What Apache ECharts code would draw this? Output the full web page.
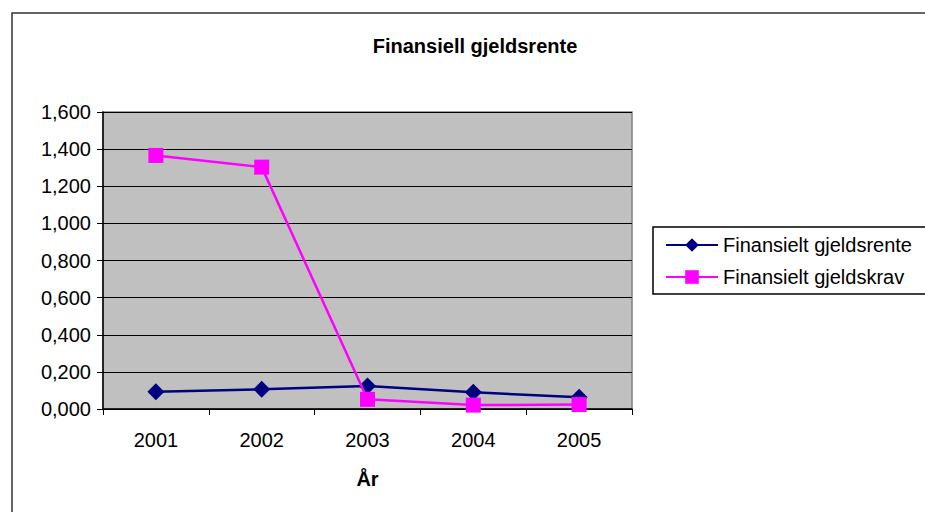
<!DOCTYPE html>
<html>
<head>
<meta charset="utf-8">
<script src="https://cdn.jsdelivr.net/npm/echarts@6/dist/echarts.min.js"></script>
<style>
  html, body { margin: 0; padding: 0; background: #fff; }
  #chart { width: 925px; height: 512px; }
</style>
</head>
<body>
<div id="chart"></div>
<script>
(function() {
  // --- data ---
  var years = ['2001', '2002', '2003', '2004', '2005'];
  var rente = [0.093, 0.106, 0.124, 0.090, 0.063];   // Finansielt gjeldsrente
  var krav = [1.366, 1.303, 0.052, 0.021, 0.024];    // Finansielt gjeldskrav
  var yMin = 0, yMax = 1.6, yStep = 0.2;

  var font = 'Liberation Sans, Arial, sans-serif';
  var chart = echarts.init(document.getElementById('chart'), null, { renderer: 'svg' });

  chart.setOption({
    animation: false,
    textStyle: { fontFamily: font, color: '#000' },
    title: {
      text: 'Finansiell gjeldsrente',
      left: 470, textAlign: 'center',
      top: 31,
      textStyle: { fontFamily: font, fontSize: 20, fontWeight: 'bold', color: '#000' }
    },
    graphic: [
      // outer chart frame
      { type: 'rect', z: 0, shape: { x: 12, y: 13, width: 1000, height: 600 },
        style: { fill: 'none', stroke: '#333', lineWidth: 1.5 } },
      // legend box
      { type: 'rect', z: 0, shape: { x: 653, y: 227, width: 300, height: 67 },
        style: { fill: '#fff', stroke: '#000', lineWidth: 1.5 } }
    ],
    legend: {
      orient: 'vertical',
      left: 660, top: 230,
      z: 10,
      itemWidth: 52, itemHeight: 17,
      itemGap: 12,
      textStyle: { fontFamily: font, fontSize: 20, color: '#000' },
      data: ['Finansielt gjeldsrente', 'Finansielt gjeldskrav']
    },
    grid: {
      left: 103, top: 112, right: 293, bottom: 103,
      show: true, backgroundColor: '#C0C0C0', borderColor: '#808080', borderWidth: 1.5
    },
    xAxis: {
      type: 'category',
      data: years,
      name: 'År',
      nameLocation: 'middle',
      nameGap: 60,
      nameTextStyle: { fontFamily: font, fontSize: 20, fontWeight: 'bold', color: '#000' },
      axisLine: { lineStyle: { color: '#000', width: 1.5 } },
      axisTick: { show: true, length: 6, lineStyle: { color: '#000' } },
      axisLabel: { fontFamily: font, fontSize: 20, color: '#000', margin: 21 }
    },
    yAxis: {
      type: 'value',
      min: yMin, max: yMax, interval: yStep,
      axisLine: { show: true, lineStyle: { color: '#000', width: 1.5 } },
      axisTick: { show: true, length: 6, lineStyle: { color: '#000' } },
      axisLabel: {
        fontFamily: font, fontSize: 20, color: '#000', margin: 12,
        formatter: function(v) { return v.toFixed(3).replace('.', ','); }
      },
      splitLine: { lineStyle: { color: '#000', width: 1 } }
    },
    series: [
      {
        name: 'Finansielt gjeldsrente',
        type: 'line',
        data: rente,
        symbol: 'diamond',
        symbolSize: [17, 17],
        lineStyle: { color: '#000080', width: 2.5 },
        itemStyle: { color: '#000080' },
        z: 3
      },
      {
        name: 'Finansielt gjeldskrav',
        type: 'line',
        data: krav,
        symbol: 'rect',
        symbolSize: [15, 15],
        lineStyle: { color: '#FF00FF', width: 2.5 },
        itemStyle: { color: '#FF00FF' },
        z: 4
      }
    ]
  });
})();
</script>
</body>
</html>
